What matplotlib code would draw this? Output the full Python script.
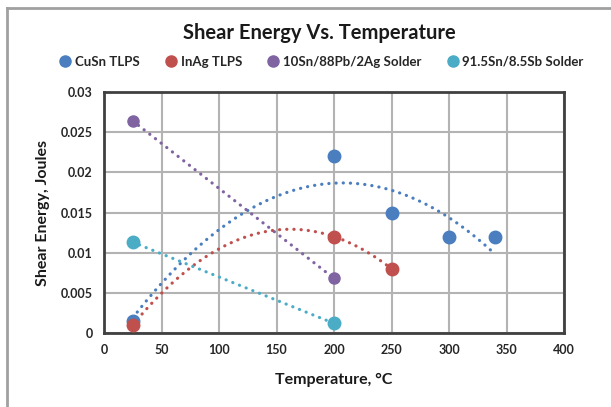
import numpy as np
import matplotlib
matplotlib.use("Agg")
import matplotlib.pyplot as plt
from matplotlib.lines import Line2D

plt.rcParams['font.family'] = ['Lato', 'DejaVu Sans']

# Data
series_names = ["CuSn TLPS", "InAg TLPS", "10Sn/88Pb/2Ag Solder", "91.5Sn/8.5Sb Solder"]
cusn_x = [25, 200, 250, 300, 340]
cusn_y = [0.0015, 0.022, 0.015, 0.012, 0.012]
inag_x = [25, 200, 250]
inag_y = [0.001, 0.012, 0.008]
pb_x = [25, 200]
pb_y = [0.0264, 0.0068]
sb_x = [25, 200]
sb_y = [0.0113, 0.0012]
x_ticks = [0, 50, 100, 150, 200, 250, 300, 350, 400]
y_ticks = [0, 0.005, 0.01, 0.015, 0.02, 0.025, 0.03]
y_tick_labels = ["0", "0.005", "0.01", "0.015", "0.02", "0.025", "0.03"]

colors = ["#4A7EBF", "#C0504D", "#8064A2", "#4BACC6"]
trend_deg = [2, 2, 1, 1]
all_x = [cusn_x, inag_x, pb_x, sb_x]
all_y = [cusn_y, inag_y, pb_y, sb_y]
msizes = [9, 9, 8, 9]

fig = plt.figure(figsize=(6.11, 4.07), dpi=100)
ax = fig.add_axes([104/611, 74/407, 460/611, 241/407])

# chart border (partial, as in reference)
fig.add_artist(Line2D([7/611, 7/611], [0, 1 - 8/407], transform=fig.transFigure,
                      color="#A0A0A0", lw=2))
fig.add_artist(Line2D([7/611, 1], [1 - 8/407, 1 - 8/407], transform=fig.transFigure,
                      color="#A0A0A0", lw=2))

for xs, ys, c, d in zip(all_x, all_y, colors, trend_deg):
    coef = np.polyfit(xs, ys, d)
    xx = np.linspace(min(xs), max(xs), 300)
    ax.plot(xx, np.polyval(coef, xx), color=c, lw=2.3, linestyle=(0, (0.05, 2.2)),
            dash_capstyle='round', zorder=3)

handles = []
for xs, ys, c, name, ms in zip(all_x, all_y, colors, series_names, msizes):
    h, = ax.plot(xs, ys, 'o', color=c, ms=ms, mec=c, label=name, zorder=4, clip_on=False)
    handles.append(h)

ax.set_xlim(0, 400)
ax.set_ylim(0, 0.03)
ax.set_xticks(x_ticks)
ax.set_yticks(y_ticks)
ax.set_yticklabels(y_tick_labels)
ax.grid(True, color="#B3B3B3", lw=1.5)
ax.set_axisbelow(True)
for s in ax.spines.values():
    s.set_color("#404040")
    s.set_linewidth(2)
ax.tick_params(length=0, pad=8, labelsize=9, colors="#262626")
for lbl in ax.get_xticklabels() + ax.get_yticklabels():
    lbl.set_fontweight('bold')

ax.set_xlabel("Temperature, °C", fontsize=11.5, fontweight='bold', labelpad=12, color="#1a1a1a")
ax.set_ylabel("Shear Energy, Joules", fontsize=11.5, fontweight='bold', labelpad=8, color="#1a1a1a")

fig.text(0.522, 1 - 33/407, "Shear Energy Vs. Temperature", ha='center', va='center',
         fontsize=14.5, fontweight='bold', color="#1a1a1a")

leg_handles = [Line2D([], [], marker='o', ls='none', color=c, ms=8) for c in colors]
leg = fig.legend(leg_handles, series_names, loc='center', bbox_to_anchor=(0.523, 1 - 62/407),
                 ncol=4, frameon=False, handletextpad=0.0, columnspacing=1.6,
                 prop={'weight': 'bold', 'size': 9.5}, handlelength=1.5)
for t in leg.get_texts():
    t.set_color("#262626")

fig.savefig("out.png", dpi=100)
